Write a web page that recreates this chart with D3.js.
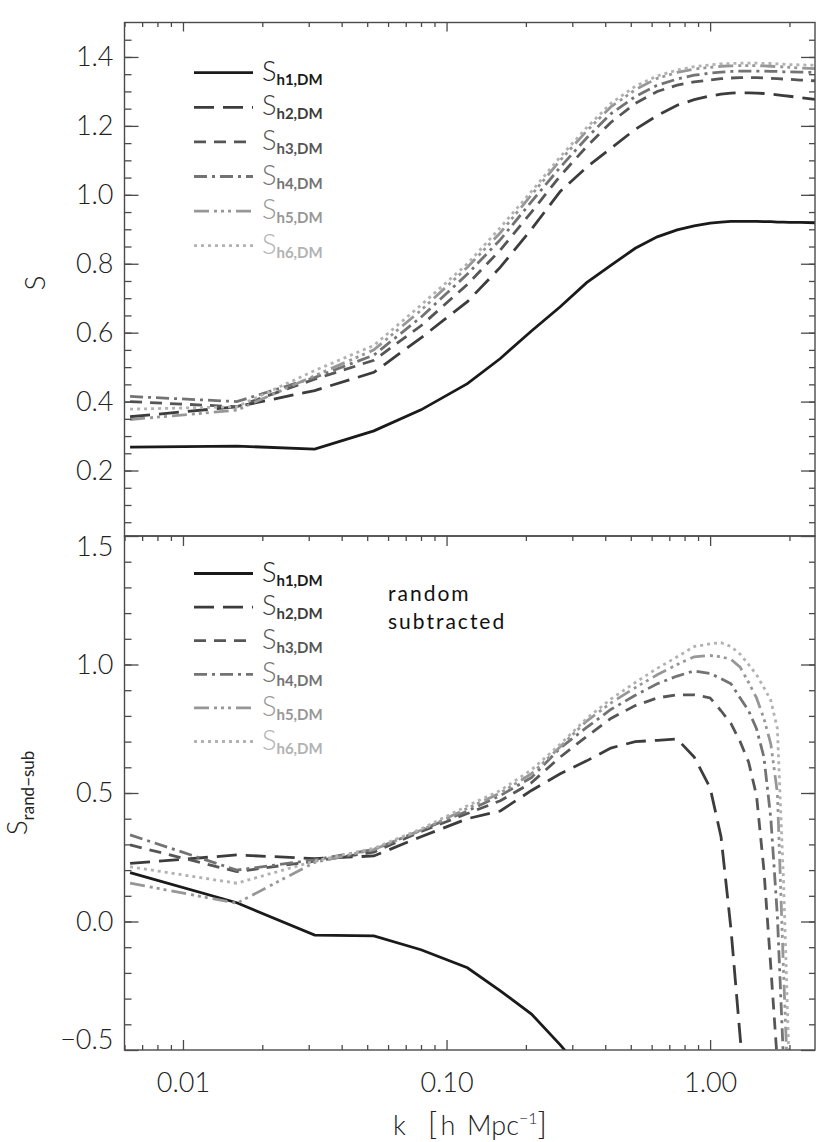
<!DOCTYPE html>
<html>
<head>
<meta charset="utf-8">
<script src="https://cdn.jsdelivr.net/npm/d3@7"></script>
<style>
  body { margin: 0; background: #fff; }
  svg text { font-family: Lato, "DejaVu Sans", sans-serif; }
</style>
</head>
<body>
<div id="chart"></div>
<script>
// wavenumbers shared by all curves (h Mpc^-1)
const kValues = [0.0063, 0.016, 0.0316, 0.053, 0.08, 0.12, 0.16, 0.21, 0.27, 0.34, 0.42, 0.52, 0.63, 0.75,
  0.87, 1.0, 1.1, 1.2, 1.3, 1.4, 1.5, 1.6, 1.7, 1.8, 1.9, 2.0, 2.2, 2.5];

// top panel: S
const topH1 = [0.268, 0.271, 0.262, 0.315, 0.376, 0.452, 0.525, 0.605, 0.675, 0.745, 0.795, 0.845, 0.878, 0.898,
  0.910, 0.918, 0.921, 0.923, 0.923, 0.923, 0.923, 0.922, 0.922, 0.921, 0.921, 0.920, 0.920, 0.919];
const topH2 = [0.356, 0.385, 0.432, 0.485, 0.585, 0.690, 0.790, 0.900, 1.010, 1.080, 1.135, 1.190, 1.230, 1.260,
  1.276, 1.287, 1.292, 1.295, 1.296, 1.296, 1.295, 1.294, 1.292, 1.290, 1.288, 1.286, 1.282, 1.277];
const topH3 = [0.400, 0.385, 0.465, 0.520, 0.620, 0.740, 0.840, 0.950, 1.055, 1.140, 1.210, 1.265, 1.300, 1.318,
  1.328, 1.333, 1.337, 1.339, 1.340, 1.340, 1.340, 1.339, 1.338, 1.337, 1.336, 1.335, 1.333, 1.331];
const topH4 = [0.415, 0.400, 0.470, 0.535, 0.645, 0.770, 0.870, 0.980, 1.080, 1.165, 1.235, 1.285, 1.318, 1.336,
  1.347, 1.353, 1.356, 1.358, 1.359, 1.359, 1.359, 1.359, 1.358, 1.358, 1.357, 1.357, 1.356, 1.355];
const topH5 = [0.348, 0.375, 0.475, 0.550, 0.665, 0.790, 0.890, 1.000, 1.100, 1.185, 1.255, 1.305, 1.338, 1.355,
  1.365, 1.370, 1.373, 1.374, 1.375, 1.375, 1.375, 1.374, 1.373, 1.372, 1.371, 1.370, 1.368, 1.366];
const topH6 = [0.378, 0.385, 0.490, 0.563, 0.680, 0.800, 0.905, 1.010, 1.110, 1.195, 1.265, 1.315, 1.345, 1.362,
  1.372, 1.377, 1.380, 1.381, 1.382, 1.382, 1.382, 1.381, 1.381, 1.380, 1.379, 1.378, 1.377, 1.376];

// bottom panel: S (random subtracted); null = beyond the plotted range
const subH1 = [0.190, 0.073, -0.053, -0.056, -0.110, -0.180, -0.270, -0.360, -0.480, -0.600, null, null, null, null,
  null, null, null, null, null, null, null, null, null, null, null, null, null, null];
const subH2 = [0.226, 0.259, 0.245, 0.255, 0.330, 0.400, 0.430, 0.510, 0.575, 0.625, 0.675, 0.700, 0.705, 0.710,
  0.640, 0.520, 0.330, -0.030, -0.450, -0.800, null, null, null, null, null, null, null, null];
const subH3 = [0.298, 0.194, 0.235, 0.270, 0.350, 0.420, 0.470, 0.540, 0.640, 0.720, 0.790, 0.840, 0.870, 0.882,
  0.882, 0.870, 0.820, 0.770, 0.700, 0.620, 0.490, 0.200, -0.180, -0.550, null, null, null, null];
const subH4 = [0.337, 0.200, 0.240, 0.280, 0.355, 0.430, 0.490, 0.560, 0.675, 0.755, 0.825, 0.880, 0.925, 0.955,
  0.975, 0.965, 0.945, 0.925, 0.870, 0.820, 0.750, 0.640, 0.400, 0.020, -0.550, null, null, null];
const subH5 = [0.149, 0.071, 0.230, 0.280, 0.355, 0.440, 0.500, 0.575, 0.680, 0.780, 0.850, 0.910, 0.960, 1.000,
  1.030, 1.035, 1.030, 1.020, 0.990, 0.930, 0.870, 0.790, 0.690, 0.500, -0.200, -0.800, null, null];
const subH6 = [0.213, 0.149, 0.235, 0.285, 0.360, 0.450, 0.510, 0.590, 0.690, 0.790, 0.865, 0.930, 0.985, 1.030,
  1.070, 1.080, 1.085, 1.070, 1.040, 1.000, 0.960, 0.910, 0.860, 0.750, 0.150, -0.600, null, null];

const seriesNames = ["h1", "h2", "h3", "h4", "h5", "h6"];
const xMajorTicks = [0.01, 0.1, 1];

// line styles
const colors = ["#1a1a1a", "#3c3c3c", "#565656", "#737373", "#979797", "#b2b2b2"];
const dashes = ["none", "20 9", "12 8", "13 5 3 5", "15 5 3 4 3 4 3 5", "3 4"];

const width = 830, height = 1142;
const xLeft = 124.5, xRight = 815;
const axisColor = "#4a4a4a";

const svg = d3.select("#chart").append("svg")
    .attr("width", width)
    .attr("height", height)
    .style("background", "#fff");

const x = d3.scaleLog().domain([0.006, 2.5]).range([xLeft, xRight]);
const xMinorTicks = x.ticks().filter(t => !xMajorTicks.some(m => Math.abs(m - t) < 1e-9));

const panels = [
    {
        id: "top",
        y: d3.scaleLinear().domain([0.01, 1.5]).range([536, 22.5]),
        series: [topH1, topH2, topH3, topH4, topH5, topH6],
        majors: d3.range(1, 8).map(i => +(i * 0.2).toFixed(2)),
        minors: d3.range(1, 30).map(i => +(i * 0.05).toFixed(2)),
        legendY: 72.7, legendStep: 34.6
    },
    {
        id: "bot",
        y: d3.scaleLinear().domain([-0.5, 1.5]).range([1050, 536]),
        series: [subH1, subH2, subH3, subH4, subH5, subH6],
        majors: [-0.5, 0, 0.5, 1.0, 1.5],
        minors: d3.range(-4, 15).map(i => +(i * 0.1).toFixed(2)),
        legendY: 573.5, legendStep: 33.6
    }
];

function styleAxis(g) {
    g.select(".domain").remove();
    g.selectAll("line").attr("stroke", axisColor).attr("stroke-width", 1.3);
    g.selectAll("text")
        .attr("fill", "#222")
        .style("font-size", "27px")
        .style("font-weight", 300);
}

panels.forEach(p => {
    const [yb, yt] = p.y.range();

    svg.append("clipPath").attr("id", "clip-" + p.id)
        .append("rect")
        .attr("x", xLeft).attr("y", yt)
        .attr("width", xRight - xLeft).attr("height", yb - yt);

    // curves
    const line = d3.line()
        .defined(d => d[1] !== null)
        .x(d => x(d[0]))
        .y(d => p.y(d[1]));

    const curves = svg.append("g").attr("clip-path", `url(#clip-${p.id})`);
    p.series.forEach((vals, i) => {
        curves.append("path")
            .datum(kValues.map((k, j) => [k, vals[j]]))
            .attr("d", line)
            .attr("fill", "none")
            .attr("stroke", colors[i])
            .attr("stroke-width", 2.8)
            .attr("stroke-dasharray", dashes[i]);
    });

    // left axis (ticks inward + labels)
    svg.append("g").attr("transform", `translate(${xLeft},0)`)
        .call(d3.axisRight(p.y).tickValues(p.minors).tickSize(7).tickFormat(""))
        .call(styleAxis);
    const leftMajor = svg.append("g").attr("transform", `translate(${xLeft},0)`)
        .call(d3.axisLeft(p.y).tickValues(p.majors).tickSizeInner(-14).tickSizeOuter(0)
            .tickPadding(11).tickFormat(d3.format(".1f")))
        .call(styleAxis);

    // right axis
    svg.append("g").attr("transform", `translate(${xRight},0)`)
        .call(d3.axisLeft(p.y).tickValues(p.minors).tickSize(6).tickFormat(""))
        .call(styleAxis);
    svg.append("g").attr("transform", `translate(${xRight},0)`)
        .call(d3.axisLeft(p.y).tickValues(p.majors).tickSize(14).tickFormat(""))
        .call(styleAxis);

    // top edge ticks pointing down
    svg.append("g").attr("transform", `translate(0,${yt})`)
        .call(d3.axisBottom(x).tickValues(xMinorTicks).tickSize(p.id === "top" ? 4.5 : 5).tickFormat(""))
        .call(styleAxis);
    svg.append("g").attr("transform", `translate(0,${yt})`)
        .call(d3.axisBottom(x).tickValues(xMajorTicks).tickSize(p.id === "top" ? 9 : 10).tickFormat(""))
        .call(styleAxis);

    if (p.id === "bot") {
        // labels at the very top/bottom of the range sit inside the frame
        leftMajor.selectAll(".tick text")
            .attr("dy", d => d === 1.5 ? "0.72em" : d === -0.5 ? "-0.05em" : "0.32em");

        svg.append("g").attr("transform", `translate(0,${yb})`)
            .call(d3.axisTop(x).tickValues(xMinorTicks).tickSize(5).tickFormat(""))
            .call(styleAxis);
        svg.append("g").attr("transform", `translate(0,${yb})`)
            .call(d3.axisBottom(x).tickValues(xMajorTicks).tickSizeInner(-10).tickSizeOuter(0)
                .tickPadding(23).tickFormat(d3.format(".2f")))
            .call(styleAxis);
    }

    // frame
    svg.append("rect")
        .attr("x", xLeft).attr("y", yt)
        .attr("width", xRight - xLeft).attr("height", yb - yt)
        .attr("fill", "none")
        .attr("stroke", axisColor)
        .attr("stroke-width", 1.4);

    // legend
    const legend = svg.append("g");
    seriesNames.forEach((n, i) => {
        const ly = p.legendY + i * p.legendStep;
        legend.append("line")
            .attr("x1", 194).attr("x2", 253)
            .attr("y1", ly).attr("y2", ly)
            .attr("stroke", colors[i])
            .attr("stroke-width", 2.8)
            .attr("stroke-dasharray", dashes[i]);
        const t = legend.append("text")
            .attr("x", 262)
            .attr("y", ly + 8)
            .attr("fill", colors[i]);
        t.append("tspan").style("font-size", "27px").style("font-weight", 300).text("S");
        t.append("tspan").attr("dy", 4).style("font-size", "15px").style("font-weight", 700)
            .text(n + ",DM");
    });
});

// "random subtracted" note
const note = svg.append("text")
    .attr("fill", "#111")
    .style("font-size", "21px")
    .style("font-weight", 400)
    .style("letter-spacing", "2px");
note.append("tspan").attr("x", 388).attr("y", 601).text("random");
note.append("tspan").attr("x", 388).attr("y", 629).text("subtracted");

// y axis titles
svg.append("text")
    .attr("transform", "translate(45,283) rotate(-90)")
    .attr("text-anchor", "middle")
    .attr("fill", "#222")
    .style("font-size", "28px")
    .style("font-weight", 300)
    .text("S");

const yBotTitle = svg.append("text")
    .attr("transform", "translate(27,793) rotate(-90)")
    .attr("text-anchor", "middle")
    .attr("fill", "#222");
yBotTitle.append("tspan").style("font-size", "28px").style("font-weight", 300).text("S");
yBotTitle.append("tspan").attr("dy", 7).style("font-size", "17px").style("font-weight", 400)
    .text("rand\u2212sub");

// x axis title
const xTitle = svg.append("text")
    .attr("x", 470).attr("y", 1135)
    .attr("text-anchor", "middle")
    .attr("fill", "#222")
    .style("font-size", "27px")
    .style("font-weight", 300);
xTitle.append("tspan").text("k");
xTitle.append("tspan").attr("dx", 22).style("font-size", "32px").text("[");
xTitle.append("tspan").attr("dx", 3).text("h");
xTitle.append("tspan").attr("dx", 12).text("Mpc");
xTitle.append("tspan").attr("dy", -11).style("font-size", "16px").text("\u22121");
xTitle.append("tspan").attr("dy", 11).style("font-size", "32px").text("]");
</script>
</body>
</html>
